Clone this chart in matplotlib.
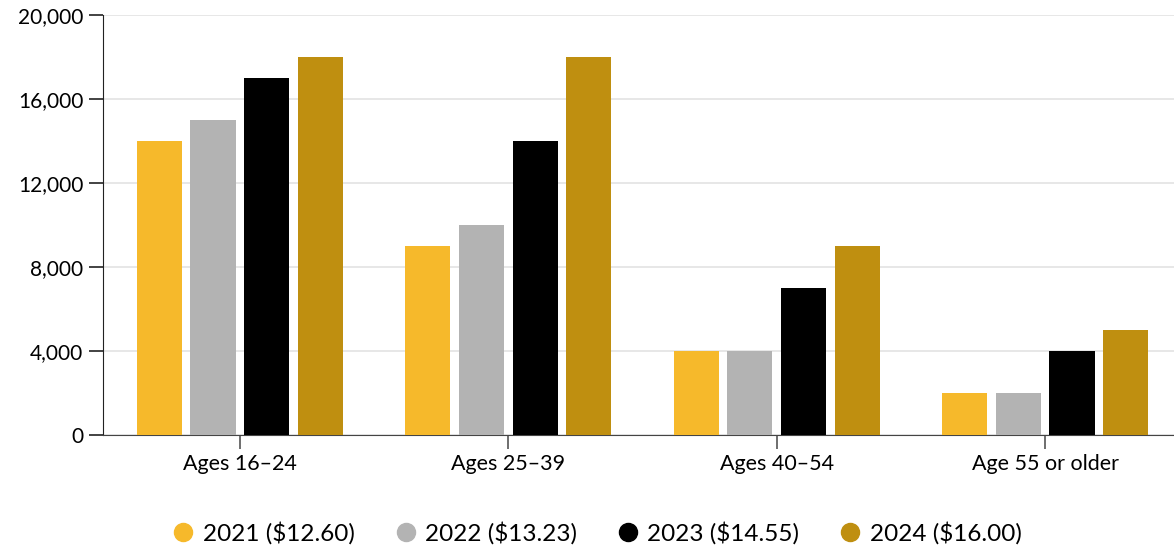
import matplotlib.pyplot as plt
from matplotlib.lines import Line2D
import numpy as np

plt.rcParams['font.family'] = ['Lato', 'DejaVu Sans']

groups = ["Ages 16–24", "Ages 25–39", "Ages 40–54", "Age 55 or older"]
series = ["2021 ($12.60)", "2022 ($13.23)", "2023 ($14.55)", "2024 ($16.00)"]
v2021 = [14000, 9000, 4000, 2000]
v2022 = [15000, 10000, 4000, 2000]
v2023 = [17000, 14000, 7000, 4000]
v2024 = [18000, 18000, 9000, 5000]
colors = ["#F6B92B", "#B3B3B3", "#000000", "#BF8F10"]

values = [v2021, v2022, v2023, v2024]
x = np.arange(len(groups))
slot = 0.2

fig = plt.figure(figsize=(11.74, 5.5), dpi=100)
ax = fig.add_axes([0.0877, 0.209, 0.9123, 0.764])

for i, (vals, c) in enumerate(zip(values, colors)):
    ax.bar(x + (i - 1.5) * slot, vals, width=slot * 0.84, color=c, zorder=3)

ax.set_xlim(-0.51, 3.48)
ax.set_ylim(0, 20000)
ax.set_yticks(range(0, 20001, 4000))
ax.set_yticklabels([f"{v:,}" for v in range(0, 20001, 4000)])
ax.set_xticks(x)
ax.set_xticklabels(groups)
ax.grid(axis='y', color='#e3e3e3', linewidth=1.2, zorder=0)

for s in ['top', 'right']:
    ax.spines[s].set_visible(False)
ax.spines['left'].set_color('#222222')
ax.spines['bottom'].set_color('#444444')
ax.tick_params(axis='y', length=10, width=1.2, color='#222222', labelsize=15, pad=4)
ax.tick_params(axis='x', length=10, width=1.2, color='#555555', labelsize=15.5, pad=4)

handles = [Line2D([], [], marker='o', linestyle='none', markersize=13,
                  markerfacecolor=c, markeredgecolor=c) for c in colors]
fig.legend(handles, series, loc='lower center', bbox_to_anchor=(0.508, -0.03),
           ncol=4, frameon=False, fontsize=17.5, handlelength=1.0,
           handletextpad=0.3, columnspacing=1.6)

fig.savefig("out.png", dpi=100)
